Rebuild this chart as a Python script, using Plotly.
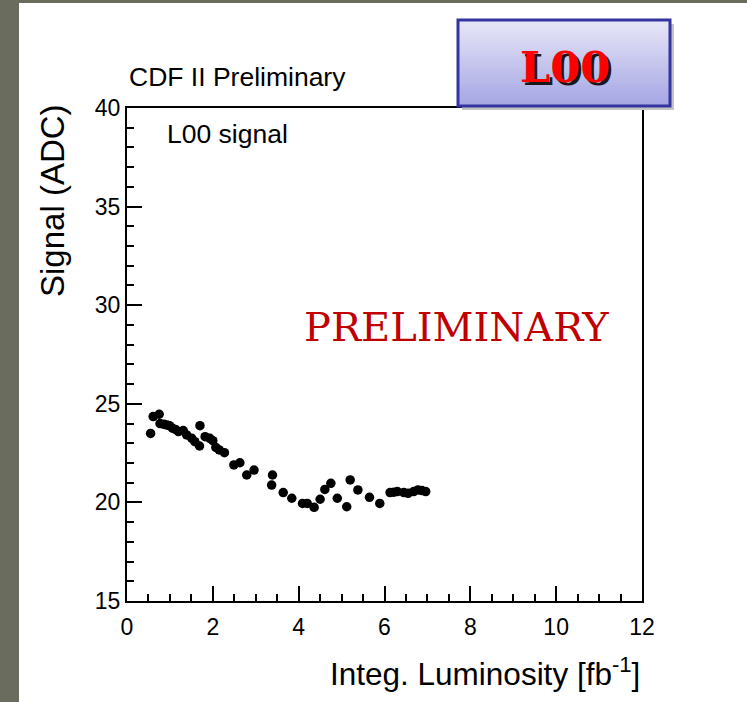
import plotly.graph_objects as go

# ---- data ----
lumi = [0.55, 0.61, 0.75, 0.77, 0.86, 0.93, 0.99, 1.06, 1.13, 1.20, 1.31, 1.39, 1.51, 1.58, 1.69, 1.70,
        1.82, 1.93, 2.00, 2.07, 2.15, 2.27, 2.49, 2.63, 2.79, 2.96, 3.37, 3.39, 3.64, 3.84, 4.09, 4.20,
        4.36, 4.50, 4.61, 4.75, 4.90, 5.12, 5.20, 5.38, 5.65, 5.89, 6.13, 6.22, 6.30, 6.45, 6.55, 6.68,
        6.78, 6.87, 6.96]
signal = [23.50, 24.35, 24.47, 24.00, 23.96, 23.92, 23.89, 23.76, 23.70, 23.59, 23.64, 23.42, 23.25, 23.08, 22.86, 23.89,
          23.33, 23.25, 23.13, 22.79, 22.66, 22.52, 21.90, 22.01, 21.39, 21.64, 20.88, 21.39, 20.50, 20.21, 19.95, 19.95,
          19.75, 20.16, 20.66, 20.97, 20.21, 19.78, 21.14, 20.63, 20.26, 19.95, 20.50, 20.52, 20.55, 20.50, 20.46, 20.55,
          20.63, 20.60, 20.55]

x_range = [0, 12]
y_range = [15, 40]
x_title = "Integ. Luminosity [fb<sup>-1</sup>]"
y_title = "Signal (ADC)"

W, H = 747, 702
L, R, T, B = 127, 105, 108, 101
PW, PH = W - L - R, H - T - B


def px(x):
    return (x - L) / PW


def py(y):
    return (H - B - y) / PH


FONT = "Liberation Sans, Arial, sans-serif"

fig = go.Figure()
fig.add_trace(go.Scatter(x=lumi, y=signal, mode="markers",
                         marker=dict(color="black", size=9.5, line=dict(width=0)),
                         showlegend=False))

axis_common = dict(showgrid=False, zeroline=False, showline=True, linecolor="black", linewidth=2,
                   mirror=True, ticks="inside", tickcolor="black", tickwidth=2,
                   tickfont=dict(family=FONT, size=23, color="black"))
fig.update_xaxes(range=x_range, dtick=2, tick0=0, ticklen=15, ticklabelstandoff=4,
                 minor=dict(dtick=0.5, ticks="inside", ticklen=7, tickcolor="black", tickwidth=1.5),
                 **axis_common)
fig.update_yaxes(range=y_range, dtick=5, tick0=15, ticklen=15,
                 minor=dict(dtick=1, ticks="inside", ticklen=7, tickcolor="black", tickwidth=1.5),
                 **axis_common)

shapes = []
# slide background strips
shapes.append(dict(type="rect", xref="paper", yref="paper", x0=px(0), x1=px(19), y0=py(0), y1=py(H),
                   fillcolor="#6a6c5d", line=dict(width=0), layer="below"))
shapes.append(dict(type="rect", xref="paper", yref="paper", x0=px(0), x1=px(W), y0=py(0), y1=py(3),
                   fillcolor="#6a6c5d", line=dict(width=0), layer="below"))
# L00 box: shadow, gradient, border
bx0, bx1, by0, by1 = 458, 670, 20, 106
shapes.append(dict(type="rect", xref="paper", yref="paper", x0=px(bx0 + 4), x1=px(bx1 + 4),
                   y0=py(by1 + 4), y1=py(by0 + 4), fillcolor="#c4c4c4", line=dict(width=0), layer="above"))
n = 30
c0 = (230, 230, 248)
c1 = (166, 166, 228)
for i in range(n):
    f = i / (n - 1)
    col = "rgb(%d,%d,%d)" % tuple(round(a + (b - a) * f) for a, b in zip(c0, c1))
    ya = by0 + (by1 - by0) * i / n
    yb = by0 + (by1 - by0) * (i + 1) / n
    shapes.append(dict(type="rect", xref="paper", yref="paper", x0=px(bx0), x1=px(bx1),
                       y0=py(yb + 0.5), y1=py(ya), fillcolor=col, line=dict(width=0), layer="above"))
shapes.append(dict(type="rect", xref="paper", yref="paper", x0=px(bx0), x1=px(bx1),
                   y0=py(by1), y1=py(by0), fillcolor="rgba(0,0,0,0)",
                   line=dict(color="#3535a0", width=3), layer="above"))

annotations = [
    dict(text="CDF II Preliminary", x=px(127), y=py(77), xref="paper", yref="paper",
         xanchor="left", yanchor="middle", showarrow=False,
         font=dict(family=FONT, size=26.5, color="black")),
    dict(text="L00 signal", x=px(165), y=py(134), xref="paper", yref="paper",
         xanchor="left", yanchor="middle", showarrow=False,
         font=dict(family=FONT, size=26.5, color="black")),
    dict(text="PRELIMINARY", x=px(456), y=py(327), xref="paper", yref="paper",
         xanchor="center", yanchor="middle", showarrow=False,
         font=dict(family="DejaVu Serif, serif", size=40, color="#c00000")),
    dict(text=y_title, x=px(52), y=py(201), xref="paper", yref="paper", textangle=-90,
         xanchor="center", yanchor="middle", showarrow=False,
         font=dict(family=FONT, size=33, color="black")),
    dict(text=x_title, x=px(642), y=py(672), xref="paper", yref="paper",
         xanchor="right", yanchor="middle", showarrow=False,
         font=dict(family=FONT, size=31.5, color="black")),
    dict(text="<b>L00</b>", x=px(567.5), y=py(69.5), xref="paper", yref="paper",
         xanchor="center", yanchor="middle", showarrow=False,
         font=dict(family="DejaVu Serif, serif", size=43, color="#181818")),
    dict(text="<b>L00</b>", x=px(565), y=py(67), xref="paper", yref="paper",
         xanchor="center", yanchor="middle", showarrow=False,
         font=dict(family="DejaVu Serif, serif", size=43, color="#ff0000")),
]

fig.update_layout(width=W, height=H, margin=dict(l=L, r=R, t=T, b=B, pad=0),
                  paper_bgcolor="white", plot_bgcolor="white",
                  shapes=shapes, annotations=annotations, showlegend=False)

fig.write_html("out.html")
